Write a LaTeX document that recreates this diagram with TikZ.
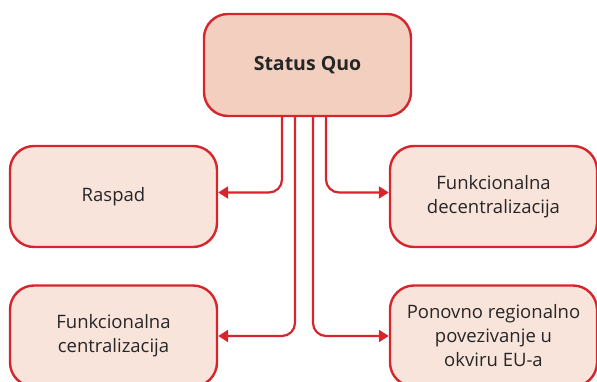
\documentclass[tikz,border=0pt]{standalone}
\usepackage{fontspec}
\setmainfont{Open Sans}
\usetikzlibrary{arrows.meta}
\definecolor{qred}{HTML}{D7252D}
\definecolor{qtop}{HTML}{F3CFBF}
\definecolor{qbox}{HTML}{F9E4DB}

\begin{document}
\begin{tikzpicture}
  [x=1pt,y=-1pt,
   every node/.style={draw=qred,line width=2.4pt,rounded corners=24pt,fill=qbox,
     minimum width=207pt,minimum height=101pt,align=center,text=black!85,
     font=\fontsize{18.5}{24}\selectfont,inner sep=4pt},
   arr/.style={draw=qred,line width=2.2pt,rounded corners=13pt,-{Triangle[length=10pt,width=12pt]}}]
  \useasboundingbox (0,0) rectangle (597,382);
  \node[fill=qtop,minimum height=102pt,font=\bfseries\fontsize{19.5}{24}\selectfont] (sq) at (307.5,65) {Status Quo};
  \node (raspad) at (113.5,196.5) {Raspad};
  \node (decent) at (493.5,196.5) {Funkcionalna\\decentralizacija};
  \node (cent) at (113.5,336) {Funkcionalna\\centralizacija};
  \node (eu) at (493.5,336) {Ponovno regionalno\\povezivanje u\\okviru EU-a};

  \foreach \dx/\to/\side/\dy in {-25.5/raspad/east/4,18.5/decent/west/4,-12.5/cent/east/0,5.5/eu/west/0}
    \draw[arr] ([xshift=\dx pt]sq.south) |- ([yshift=\dy pt]\to.\side);

\end{tikzpicture}
\end{document}
